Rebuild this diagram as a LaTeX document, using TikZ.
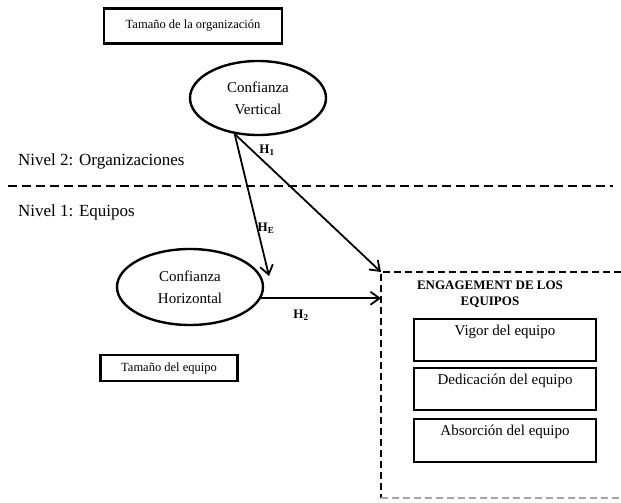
\documentclass[tikz,border=0pt]{standalone}
\usepackage{fontspec}
\setmainfont{Liberation Serif}
\usetikzlibrary{arrows.meta,shapes.geometric}
\begin{document}
\begin{tikzpicture}[x=1pt,y=-1pt,
  rectbox/.style={draw, line width=2.2pt, inner sep=0pt, align=center},
  construct/.style={ellipse, draw, line width=2.4pt, inner sep=0pt, align=center,
    font=\fontsize{15}{22}\selectfont},
  path arrow/.style={line width=1.8pt, -{Straight Barb[length=9pt,width=13pt,line width=1.8pt]}},
  level line/.style={line width=2.4pt, dash pattern=on 9pt off 5pt},
  hlabel/.style={font=\bfseries\fontsize{13}{15}\selectfont, inner sep=0pt},
  levellabel/.style={font=\fontsize{17}{20}\selectfont, anchor=west, inner sep=0pt}]
\useasboundingbox (0,0) rectangle (621,503);
\fill[white] (0,0) rectangle (621,503);

% control variables
\node[rectbox, minimum width=178pt, minimum height=35pt,
  font=\fontsize{12.5}{15}\selectfont] (org) at (193,26) {Tamaño de la organización};
\node[rectbox, minimum width=137pt, minimum height=26pt,
  font=\fontsize{12.5}{15}\selectfont] (teamsize) at (169,368) {Tamaño del equipo};

% trust constructs
\node[construct, minimum width=136pt, minimum height=74pt] (cv) at (258,98) {Confianza\\Vertical};
\node[construct, minimum width=146pt, minimum height=76pt] (ch) at (190,287) {Confianza\\Horizontal};

% levels
\draw[level line] (8,186) -- (613,186);
\node[levellabel] (lvl2) at (18,161) {Nivel 2: Organizaciones};
\node[levellabel] (lvl1) at (18,212) {Nivel 1: Equipos};

% team engagement block (open to the right)
\coordinate (eng) at (381,272);
\coordinate (engbl) at (381,498);
\draw[line width=2.2pt, dash pattern=on 7pt off 4pt] (621,272) -- (eng) -- (engbl);
\draw[gray!70, line width=1.2pt, dash pattern=on 7pt off 4pt] (engbl) -- (621,498);
\node[font=\bfseries\fontsize{13}{15.5}\selectfont, align=center, inner sep=0pt]
  (engtitle) at (490,294) {ENGAGEMENT DE LOS\\EQUIPOS};
\node[rectbox, minimum width=182pt, minimum height=42pt, anchor=north,
  font=\fontsize{15}{17}\selectfont, text depth=20pt] (vig) at (505,318) {Vigor del equipo};
\node[rectbox, minimum width=182pt, minimum height=42pt, anchor=north,
  font=\fontsize{15}{17}\selectfont, text depth=20pt] (ded) at (505,367) {Dedicación del equipo};
\node[rectbox, minimum width=182pt, minimum height=43pt, anchor=north,
  font=\fontsize{15}{17}\selectfont, text depth=20pt] (abs) at (505,418) {Absorción del equipo};

% hypothesised paths
\coordinate (hetip) at (269,276);
\draw[path arrow] (cv.237) -- (eng);
\draw[path arrow] (cv.237) -- (hetip);
\draw[path arrow] (ch.-9) -- (ch.-9 -| eng);
\node[hlabel] (h1) at (267,150) {H\textsubscript{1}};
\node[hlabel] (he) at (266,228) {H\textsubscript{E}};
\node[hlabel] (h2) at (301,315) {H\textsubscript{2}};
\end{tikzpicture}
\end{document}
